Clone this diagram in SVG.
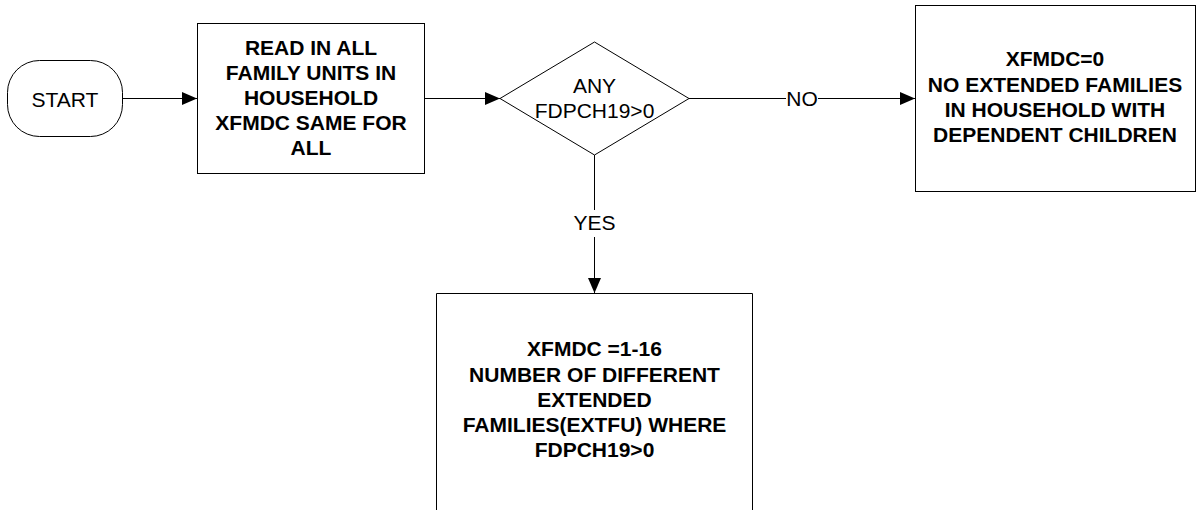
<svg xmlns="http://www.w3.org/2000/svg" width="1203" height="510" viewBox="0 0 1203 510">
<style>
.shape{fill:#fff;stroke:#000;stroke-width:1}
.line{fill:none;stroke:#000;stroke-width:1}
.b{font-family:"Liberation Sans",Arial,sans-serif;font-size:21px;font-weight:bold;text-anchor:middle;fill:#000}
.r{font-family:"Liberation Sans",Arial,sans-serif;font-size:21px;text-anchor:middle;fill:#000}
</style>
<defs>
<marker id="arr" markerWidth="15" markerHeight="13" refX="15" refY="6.5" orient="auto" markerUnits="userSpaceOnUse">
<path d="M0,0 L15,6.5 L0,13 Z" fill="#000"/>
</marker>
</defs>
<rect width="1203" height="510" fill="#fff"/>
<g id="connectors">
<line class="line" x1="123" y1="98.5" x2="197" y2="98.5" marker-end="url(#arr)"/>
<line class="line" x1="424" y1="98.5" x2="500" y2="98.5" marker-end="url(#arr)"/>
<line class="line" x1="689" y1="98.5" x2="786" y2="98.5"/>
<line class="line" x1="818" y1="98.5" x2="915" y2="98.5" marker-end="url(#arr)"/>
<text class="r" x="802" y="106">NO</text>
<line class="line" x1="594.5" y1="155" x2="594.5" y2="210"/>
<line class="line" x1="594.5" y1="237" x2="594.5" y2="293" marker-end="url(#arr)"/>
<text class="r" x="594.5" y="230">YES</text>
</g>
<g id="start">
<rect class="shape" x="7.5" y="60.5" width="115" height="76" rx="32" ry="32"/>
<text class="r" x="65" y="107">START</text>
</g>
<g id="read">
<rect class="shape" x="197.5" y="23.5" width="227" height="150"/>
<text class="b" x="311" y="55">READ IN ALL</text>
<text class="b" x="311" y="80">FAMILY UNITS IN</text>
<text class="b" x="311" y="105">HOUSEHOLD</text>
<text class="b" x="311" y="130">XFMDC SAME FOR</text>
<text class="b" x="311" y="155">ALL</text>
</g>
<g id="decision">
<polygon class="shape" points="500,98.5 594.5,42 689,98.5 594.5,155"/>
<text class="r" x="594.5" y="93">ANY</text>
<text class="r" x="594.5" y="118">FDPCH19&gt;0</text>
</g>
<g id="no-box">
<rect class="shape" x="915.5" y="5.5" width="280" height="186"/>
<text class="b" x="1055" y="66">XFMDC=0</text>
<text class="b" x="1055" y="92">NO EXTENDED FAMILIES</text>
<text class="b" x="1055" y="117">IN HOUSEHOLD WITH</text>
<text class="b" x="1055" y="142">DEPENDENT CHILDREN</text>
</g>
<g id="yes-box">
<path class="shape" d="M436.5,515 L436.5,293.5 L752.5,293.5 L752.5,515"/>
<text class="b" x="594.5" y="356">XFMDC =1-16</text>
<text class="b" x="594.5" y="382">NUMBER OF DIFFERENT</text>
<text class="b" x="594.5" y="407">EXTENDED</text>
<text class="b" x="594.5" y="432">FAMILIES(EXTFU) WHERE</text>
<text class="b" x="594.5" y="457">FDPCH19&gt;0</text>
</g>
</svg>
